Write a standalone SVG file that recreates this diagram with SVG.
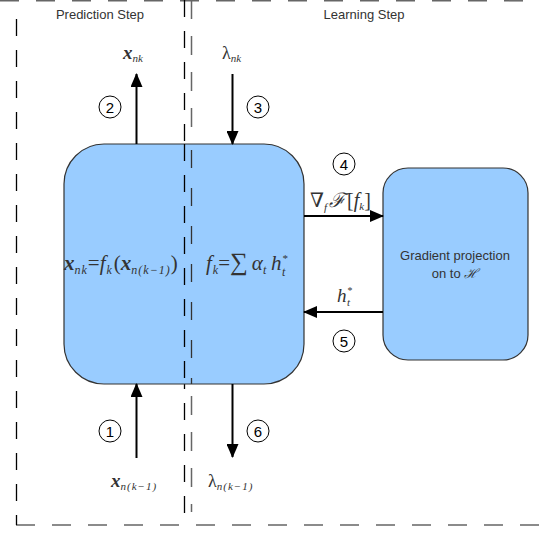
<svg xmlns="http://www.w3.org/2000/svg" width="539" height="533" viewBox="0 0 539 533">
<defs>
<marker id="ah" markerWidth="14" markerHeight="12" refX="13" refY="6" orient="auto" markerUnits="userSpaceOnUse">
<path d="M0,0 L14,6 L0,12 Z" fill="#000"/>
</marker>
</defs>
<style>
.dk{stroke:#000;stroke-width:1.3;fill:none;stroke-dasharray:17 14}
.gr{stroke:#666;stroke-width:1.5;fill:none;stroke-dasharray:19 17}
.box{fill:#99ccff;stroke:#333;stroke-width:1.2}
.arr{stroke:#000;stroke-width:2;fill:none;marker-end:url(#ah)}
.hd{font-family:"Liberation Sans",Arial,sans-serif;font-size:13px;fill:#333;text-anchor:middle}
.m{font-family:"Liberation Serif","DejaVu Serif",serif;font-style:italic;fill:#333}
.n{font-style:normal}
.circ{fill:none;stroke:#000;stroke-width:1}
.num{font-family:"Liberation Sans",Arial,sans-serif;font-size:15px;fill:#000;text-anchor:middle}
.sub{letter-spacing:1px}
</style>
<g id="frames">
<path class="gr" d="M0,0.8 H539"/>
<path class="gr" d="M16,525 H539"/>
<path class="dk" d="M16.5,19 V525"/>
<path class="dk" d="M184.5,0 V525"/>
<path class="gr" d="M191.5,0 V512"/>
<text class="hd" x="100" y="19">Prediction Step</text>
<text class="hd" x="364" y="19">Learning Step</text>
</g>
<g id="main">
<rect class="box" x="64" y="144" width="240" height="240" rx="40" ry="40"/>
<path class="dk" d="M184.5,144 V384"/>
<path stroke="#333" stroke-width="1.3" stroke-dasharray="18 20" fill="none" d="M191.5,150 V384"/>
<text class="m" x="64" y="270" font-size="21"><tspan font-weight="bold">x</tspan><tspan class="sub" font-size="12" dy="4">nk</tspan><tspan dy="-4" class="n">=</tspan><tspan>f</tspan><tspan font-size="12" dy="4" dx="1">k</tspan><tspan dy="-4" dx="2" class="n">(</tspan><tspan font-weight="bold">x</tspan><tspan class="sub" font-size="12" dy="4">n(k−1)</tspan><tspan dy="-4" class="n">)</tspan></text>
<text class="m" x="206" y="270" font-size="21"><tspan>f</tspan><tspan font-size="12" dy="4" dx="1">k</tspan><tspan dy="-4" class="n">=</tspan><tspan class="n" font-size="25">∑</tspan><tspan dx="4">α</tspan><tspan font-size="12" dy="4">t</tspan></text>
<text class="m" x="271" y="270" font-size="21">h</text>
<text class="m" x="282" y="262" font-size="11">*</text>
<text class="m" x="282" y="276" font-size="12">t</text>
</g>
<g id="proj">
<rect class="box" x="383" y="168" width="145" height="192" rx="25" ry="25"/>
<text class="hd" x="455" y="260">Gradient projection</text>
<text class="hd" x="455" y="278">on to <tspan font-family="'Liberation Serif',serif" font-style="italic">ℋ</tspan></text>
</g>
<g id="connectors">
<path class="arr" d="M136.5,144 V74"/>
<path class="arr" d="M232.5,74 V144"/>
<path class="arr" d="M136.5,458 V384"/>
<path class="arr" d="M232.5,384 V457"/>
<path class="arr" d="M304,216 H383"/>
<path class="arr" d="M383,312 H304"/>
</g>
<g id="labels">
<text class="m" x="123" y="59" font-size="19"><tspan font-weight="bold">x</tspan><tspan font-size="11" dy="3">nk</tspan></text>
<text class="m" x="222" y="59" font-size="18"><tspan class="n">λ</tspan><tspan font-size="11" dy="3">nk</tspan></text>
<text class="m" x="111" y="487" font-size="19"><tspan font-weight="bold">x</tspan><tspan class="sub" font-size="11" dy="3">n(k−1)</tspan></text>
<text class="m" x="208" y="487" font-size="18"><tspan class="n">λ</tspan><tspan class="sub" font-size="11" dy="3">n(k−1)</tspan></text>
<text class="m" x="310" y="207" font-size="20"><tspan class="n">∇</tspan><tspan font-size="11" dy="4">f</tspan><tspan dy="-4" dx="2">ℱ</tspan><tspan class="n" dx="2">[</tspan>f<tspan font-size="11" dy="3">k</tspan><tspan class="n" dy="-3">]</tspan></text>
<text class="m" x="337" y="302" font-size="19">h</text>
<text class="m" x="347" y="294" font-size="10">*</text>
<text class="m" x="347" y="306" font-size="11">t</text>
</g>
<g id="steps">
<circle class="circ" cx="110" cy="107" r="11"/><text class="num" x="110" y="112.5">2</text>
<circle class="circ" cx="258" cy="107" r="11"/><text class="num" x="258" y="112.5">3</text>
<circle class="circ" cx="344" cy="164" r="11"/><text class="num" x="344" y="169.5">4</text>
<circle class="circ" cx="344" cy="341" r="11"/><text class="num" x="344" y="346.5">5</text>
<circle class="circ" cx="110" cy="431" r="11"/><text class="num" x="110" y="436.5">1</text>
<circle class="circ" cx="258" cy="431" r="11"/><text class="num" x="258" y="436.5">6</text>
</g>
</svg>
